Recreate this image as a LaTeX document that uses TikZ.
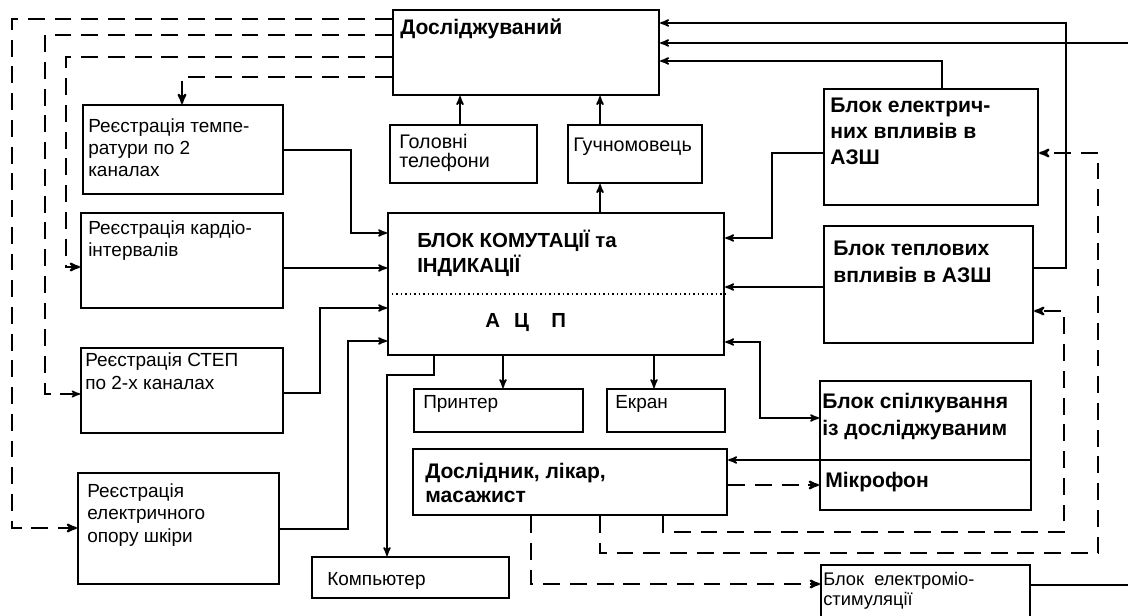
\documentclass[tikz,border=0pt]{standalone}
\usepackage{fontspec}
\setmainfont{Liberation Sans}
\usetikzlibrary{arrows}

\begin{document}
\begin{tikzpicture}[
            x=0.025cm, y=-0.025cm,
            box/.style={draw, line width=1.5pt, anchor=north west, inner sep=0pt},
            plain text/.style={anchor=base west, align=left, inner sep=0pt,
            font=\fontsize{13.5}{16}\selectfont},
            bold text/.style={anchor=base west, align=left, inner sep=0pt,
            font=\fontsize{15}{18.5}\selectfont\bfseries},
            link line/.style={line width=1.2pt},
            pile/.style={link line, ->, >=stealth'},
            dashed pile/.style={line width=1.5pt, ->, >=stealth',
            dash pattern=on 12pt off 7pt}
            ]

            \useasboundingbox (0,0) rectangle (1128,616);

            % boxes
            \node[box, minimum width=6.65cm, minimum height=2.125cm] (subj) at (392,9) {};
            \node[box, minimum width=3.675cm, minimum height=1.45cm] (phones) at (389,124) {};
            \node[box, minimum width=3.35cm, minimum height=1.45cm] (speaker) at (567,124) {};
            \node[box, minimum width=5.0cm, minimum height=2.225cm] (temp) at (82,104) {};
            \node[box, minimum width=5.05cm, minimum height=2.375cm] (cardio) at (80,212) {};
            \node[box, minimum width=5.05cm, minimum height=2.125cm] (stepreg) at (80,347) {};
            \node[box, minimum width=5.025cm, minimum height=2.775cm] (skin) at (77,472) {};
            \node[box, minimum width=8.4cm, minimum height=3.55cm] (kom) at (387,212) {};
            \node[box, minimum width=4.225cm, minimum height=1.075cm] (printer) at (413,388) {};
            \node[box, minimum width=2.95cm, minimum height=1.075cm] (screen) at (606,388) {};
            \node[box, minimum width=7.85cm, minimum height=1.65cm] (doctor) at (412,448) {};
            \node[box, minimum width=4.925cm, minimum height=1.025cm] (comp) at (311,556) {};
            \node[box, minimum width=5.275cm, minimum height=3.225cm] (comm) at (819,380) {};
            \node[box, minimum width=5.35cm, minimum height=2.9cm] (elec) at (823,88) {};
            \node[box, minimum width=5.225cm, minimum height=2.925cm] (heat) at (823,225) {};
            \node[box, minimum width=5.225cm, minimum height=1.5cm] (ems) at (820,564) {};

            \draw[dotted, line width=1.2pt] (kom.west |- 0,294) -- (kom.east |- 0,294);
            \draw[line width=1.5pt] (comm.west |- 0,460) -- (comm.east |- 0,460);

            % texts (a node sits on the baseline of its last line)
            \node[bold text] (subjT) at (400,35) {Досліджуваний};
            \node[plain text, font=\fontsize{14}{14.2}\selectfont] (phonesT) at (399,168) {Головні\\телефони};
            \node[plain text, font=\fontsize{14}{16}\selectfont] (speakerT) at (573,152) {Гучномовець};
            \node[plain text] (tempT) at (88,177) {Реєстрація темпе-\\ратури по 2\\каналах};
            \node[plain text] (cardioT) at (88,257) {Реєстрація кардіо-\\інтервалів};
            \node[plain text] (stepregT) at (85,389) {Реєстрація СТЕП\\по 2-х каналах};
            \node[plain text] (skinT) at (87,542) {Реєстрація\\електричного\\опору шкіри};
            \node[bold text, font=\fontsize{14.5}{17.7}\selectfont\bfseries] (komT) at (417,272) {БЛОК КОМУТАЦІЇ та\\ІНДИКАЦІЇ};
            \node[bold text, font=\fontsize{14.5}{17.7}\selectfont\bfseries] (adcT) at (485,327) {А\hspace{10pt}Ц\hspace{16pt}П};
            \node[plain text] (printerT) at (423,408) {Принтер};
            \node[plain text] (screenT) at (615,408) {Екран};
            \node[bold text, font=\fontsize{15}{17}\selectfont\bfseries] (doctorT) at (425,502) {Дослідник, лікар,\\масажист};
            \node[bold text] (commT) at (822,435) {Блок спілкування\\із досліджуваним};
            \node[bold text] (micT) at (825,487) {Мікрофон};
            \node[bold text] (elecT) at (830,165) {Блок електрич-\\них впливів в\\АЗШ};
            \node[bold text] (heatT) at (833,282) {Блок теплових\\впливів в АЗШ};
            \node[plain text, font=\fontsize{13}{14.2}\selectfont] (emsT) at (823,605) {Блок\ \ електроміо-\\стимуляції};
            \node[plain text] (compT) at (327,585) {Компьютер};

            % free ends at the right edge
            \coordinate (rimA) at (1128,43);
            \coordinate (rimB) at (1128,585);

            % dashed lines from the subject
            \draw[dashed pile] (subj.west |- 0,19) -| (12,528) -- (skin.west |- 0,528);
            \draw[dashed pile, line width=1.1pt] (subj.west |- 0,35) -| (45,394) -- (stepreg.west |- 0,394);
            \draw[dashed pile] (subj.west |- 0,57) -| (66,267) -- (cardio.west |- 0,267);
            \draw[dashed pile] (subj.west |- 0,77) -| (temp.north -| 182,0);

            % inputs of the switching block
            \draw[pile] (temp.east |- 0,150) -| (351,233) -- (kom.west |- 0,233);
            \draw[pile] (cardio.east |- 0,268) -- (kom.west |- 0,268);
            \draw[pile] (stepreg.east |- 0,393) -| (320,308) -- (kom.west |- 0,308);
            \draw[pile] (skin.east |- 0,529) -| (348,341) -- (kom.west |- 0,341);

            % upwards
            \draw[pile] (kom.north -| 600,0) -- (speaker.south -| 600,0);
            \draw[pile] (speaker.north -| 600,0) -- (subj.south -| 600,0);
            \draw[pile] (phones.north -| 460,0) -- (subj.south -| 460,0);

            % downwards
            \draw[pile] (kom.south -| 434,0) |- (387,375) -- (comp.north -| 387,0);
            \draw[pile] (kom.south -| 503,0) -- (printer.north -| 503,0);
            \draw[pile] (kom.south -| 654,0) -- (screen.north -| 654,0);

            % right side
            \draw[pile] (elec.west |- 0,153) -| (772,238) -- (kom.east |- 0,238);
            \draw[pile] (heat.west |- 0,287) -- (kom.east |- 0,287);
            \draw[pile, <->] (kom.east |- 0,342) -| (760,418) -- (comm.west |- 0,418);
            \draw[pile] (elec.north -| 942,0) |- (subj.east |- 0,61);
            \draw[pile] (heat.east |- 0,268) -| (1066,23) -- (subj.east |- 0,23);
            \draw[pile] (rimA) -- (subj.east |- 0,43);
            \draw[link line] (ems.east |- 0,585) -- (rimB);

            % doctor
            \draw[pile] (comm.west |- 0,460) -- (doctor.east |- 0,460);
            \draw[dashed pile] (doctor.east |- 0,485) -- (comm.west |- 0,485);
            \draw[dashed pile] (doctor.south -| 663,0) |- (1064,532) |- (heat.east |- 0,311);
            \draw[dashed pile] (doctor.south -| 600,0) |- (1098,553) |- (elec.east |- 0,153);
            \draw[dashed pile] (doctor.south -| 531,0) |- (ems.west |- 0,584);

        \end{tikzpicture}
\end{document}
